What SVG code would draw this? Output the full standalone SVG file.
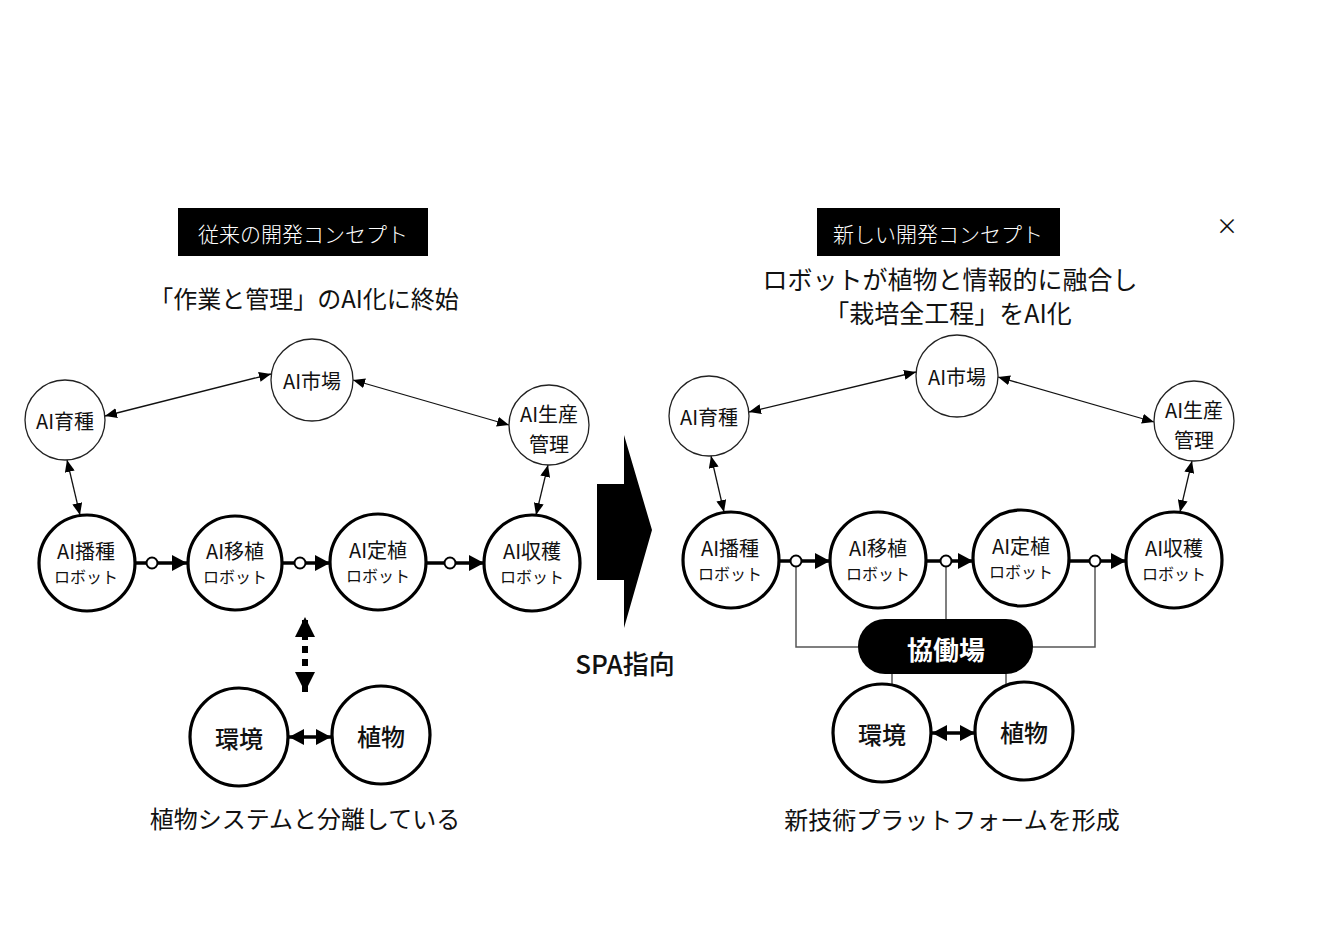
<svg xmlns="http://www.w3.org/2000/svg" width="1336" height="944" viewBox="0 0 1336 944">
<defs>
<marker id="ah" viewBox="0 0 12 10" refX="12" refY="5" markerWidth="12" markerHeight="10" markerUnits="userSpaceOnUse" orient="auto-start-reverse"><path d="M0,0 L12,5 L0,10 Z" fill="#000"/></marker>
<marker id="ahb" viewBox="0 0 15 16" refX="15" refY="8" markerWidth="15" markerHeight="16" markerUnits="userSpaceOnUse" orient="auto-start-reverse"><path d="M0,0 L15,8 L0,16 Z" fill="#000"/></marker>
<marker id="ahd" viewBox="0 0 20 20" refX="20" refY="10" markerWidth="20" markerHeight="20" markerUnits="userSpaceOnUse" orient="auto-start-reverse"><path d="M0,0 L20,10 L0,20 Z" fill="#000"/></marker>
</defs>
<style>
text{font-family:"Noto Sans CJK JP","Noto Sans",sans-serif;fill:#111;text-anchor:middle;dominant-baseline:central}
.thin{fill:#fff;stroke:#222;stroke-width:1.3}
.thick{fill:#fff;stroke:#000;stroke-width:3.2}
.n{font-size:20px}
.s{font-size:16px}
.b{font-size:24px;font-weight:500}
.ttl{font-size:24px}
.lab{font-size:21px;fill:#fff;font-weight:300}
.tl{stroke:#111;stroke-width:1.3;fill:none}
.tk{stroke:#000;stroke-width:3.5;fill:none}
.g{stroke:#555;stroke-width:1.5;fill:none}
.oc{fill:#fff;stroke:#000;stroke-width:2}
</style>
<rect width="1336" height="944" fill="#fff"/>

<!-- Left header -->
<g id="left-header">
<rect x="178" y="208" width="250" height="48" fill="#000"/>
<text x="303" y="233" class="lab">従来の開発コンセプト</text>
<text x="304" y="297" class="ttl">「作業と管理」のAI化に終始</text>
</g>

<!-- Left connectors -->
<g id="left-connectors">
<line x1="105" y1="416" x2="271" y2="374" class="tl" marker-start="url(#ah)" marker-end="url(#ah)"/>
<line x1="353" y1="380" x2="509" y2="425" class="tl" marker-start="url(#ah)" marker-end="url(#ah)"/>
<line x1="67" y1="460" x2="80" y2="515" class="tl" marker-start="url(#ah)" marker-end="url(#ah)"/>
<line x1="548" y1="465" x2="536" y2="515" class="tl" marker-start="url(#ah)" marker-end="url(#ah)"/>
<line x1="135" y1="563" x2="187" y2="563" class="tk" marker-end="url(#ahb)"/>
<circle cx="152" cy="563" r="5.5" class="oc"/>
<line x1="282" y1="563" x2="330" y2="563" class="tk" marker-end="url(#ahb)"/>
<circle cx="300" cy="563" r="5.5" class="oc"/>
<line x1="426" y1="563" x2="484" y2="563" class="tk" marker-end="url(#ahb)"/>
<circle cx="450" cy="563" r="5.5" class="oc"/>
<line x1="305" y1="617" x2="305" y2="692" stroke="#000" stroke-width="6" stroke-dasharray="7,6" stroke-dashoffset="-3" marker-start="url(#ahd)" marker-end="url(#ahd)"/>
<line x1="289" y1="737" x2="331" y2="737" class="tk" marker-start="url(#ahb)" marker-end="url(#ahb)"/>
</g>

<g id="L-market"><circle cx="312" cy="380" r="41" class="thin"/><text x="312" y="380" class="n">AI市場</text></g>
<g id="L-breeding"><circle cx="65" cy="420" r="40" class="thin"/><text x="65" y="420" class="n">AI育種</text></g>
<g id="L-prod"><circle cx="549" cy="425" r="40" class="thin"/><text x="549" y="413" class="n">AI生産</text><text x="549" y="443" class="n">管理</text></g>
<g id="L-sow"><circle cx="87" cy="563" r="48" class="thick"/><text x="86" y="550" class="n">AI播種</text><text x="86" y="576" class="s">ロボット</text></g>
<g id="L-transplant"><circle cx="235" cy="563" r="47" class="thick"/><text x="235" y="550" class="n">AI移植</text><text x="235" y="576" class="s">ロボット</text></g>
<g id="L-plant"><circle cx="378" cy="562" r="48" class="thick"/><text x="378" y="549" class="n">AI定植</text><text x="378" y="575" class="s">ロボット</text></g>
<g id="L-harvest"><circle cx="532" cy="563" r="48" class="thick"/><text x="532" y="550" class="n">AI収穫</text><text x="532" y="576" class="s">ロボット</text></g>
<g id="L-env"><circle cx="239" cy="737" r="49" class="thick"/><text x="239" y="737" class="b">環境</text></g>
<g id="L-plantnode"><circle cx="381" cy="735" r="49" class="thick"/><text x="381" y="735" class="b">植物</text></g>
<g id="left-footer"><text x="305" y="817" class="ttl">植物システムと分離している</text></g>

<!-- Center arrow -->
<g id="spa-arrow">
<path d="M597,484 L624,484 L624,435 L652,530 L624,628 L624,580 L597,580 Z" fill="#000"/>
<text x="625" y="662" style="font-size:26px;font-weight:500">SPA指向</text>
</g>

<!-- Right header -->
<g id="right-header">
<rect x="817" y="208" width="243" height="48" fill="#000"/>
<text x="938" y="233" class="lab">新しい開発コンセプト</text>
<text x="950" y="278" style="font-size:25px">ロボットが植物と情報的に融合し</text>
<text x="948" y="312" style="font-size:25px">「栽培全工程」をAI化</text>
</g>
<g id="close-mark"><text x="1227" y="224" style="font-size:22px">×</text></g>

<!-- Right connectors -->
<g id="right-connectors">
<line x1="749" y1="412" x2="916" y2="372" class="tl" marker-start="url(#ah)" marker-end="url(#ah)"/>
<line x1="998" y1="377" x2="1154" y2="422" class="tl" marker-start="url(#ah)" marker-end="url(#ah)"/>
<line x1="711" y1="456" x2="724" y2="512" class="tl" marker-start="url(#ah)" marker-end="url(#ah)"/>
<line x1="1192" y1="461" x2="1180" y2="512" class="tl" marker-start="url(#ah)" marker-end="url(#ah)"/>
<polyline points="796,561 796,647 858,647" class="g"/>
<line x1="946" y1="561" x2="946" y2="619" class="g"/>
<polyline points="1095,561 1095,647 1033,647" class="g"/>
<line x1="892" y1="674" x2="892" y2="688" class="g"/>
<line x1="1006" y1="674" x2="1006" y2="688" class="g"/>
<line x1="779" y1="561" x2="830" y2="561" class="tk" marker-end="url(#ahb)"/>
<circle cx="796" cy="561" r="5.5" class="oc"/>
<line x1="926" y1="561" x2="973" y2="561" class="tk" marker-end="url(#ahb)"/>
<circle cx="946" cy="561" r="5.5" class="oc"/>
<line x1="1069" y1="561" x2="1126" y2="561" class="tk" marker-end="url(#ahb)"/>
<circle cx="1095" cy="561" r="5.5" class="oc"/>
<line x1="932" y1="733" x2="975" y2="733" class="tk" marker-start="url(#ahb)" marker-end="url(#ahb)"/>
</g>

<g id="R-market"><circle cx="957" cy="376" r="41" class="thin"/><text x="957" y="376" class="n">AI市場</text></g>
<g id="R-breeding"><circle cx="709" cy="416" r="40" class="thin"/><text x="709" y="416" class="n">AI育種</text></g>
<g id="R-prod"><circle cx="1194" cy="421" r="40" class="thin"/><text x="1194" y="409" class="n">AI生産</text><text x="1194" y="439" class="n">管理</text></g>
<g id="R-sow"><circle cx="731" cy="560" r="48" class="thick"/><text x="730" y="547" class="n">AI播種</text><text x="730" y="573" class="s">ロボット</text></g>
<g id="R-transplant"><circle cx="878" cy="560" r="48" class="thick"/><text x="878" y="547" class="n">AI移植</text><text x="878" y="573" class="s">ロボット</text></g>
<g id="R-plant"><circle cx="1021" cy="558" r="48" class="thick"/><text x="1021" y="545" class="n">AI定植</text><text x="1021" y="571" class="s">ロボット</text></g>
<g id="R-harvest"><circle cx="1174" cy="560" r="48" class="thick"/><text x="1174" y="547" class="n">AI収穫</text><text x="1174" y="573" class="s">ロボット</text></g>
<g id="R-cowork"><rect x="858" y="619" width="175" height="55" rx="27" fill="#000"/><text x="946" y="648" style="font-size:26px;font-weight:700;fill:#fff">協働場</text></g>
<g id="R-env"><circle cx="882" cy="733" r="49" class="thick"/><text x="882" y="733" class="b">環境</text></g>
<g id="R-plantnode"><circle cx="1024" cy="731" r="49" class="thick"/><text x="1024" y="731" class="b">植物</text></g>
<g id="right-footer"><text x="952" y="818" class="ttl">新技術プラットフォームを形成</text></g>
</svg>
